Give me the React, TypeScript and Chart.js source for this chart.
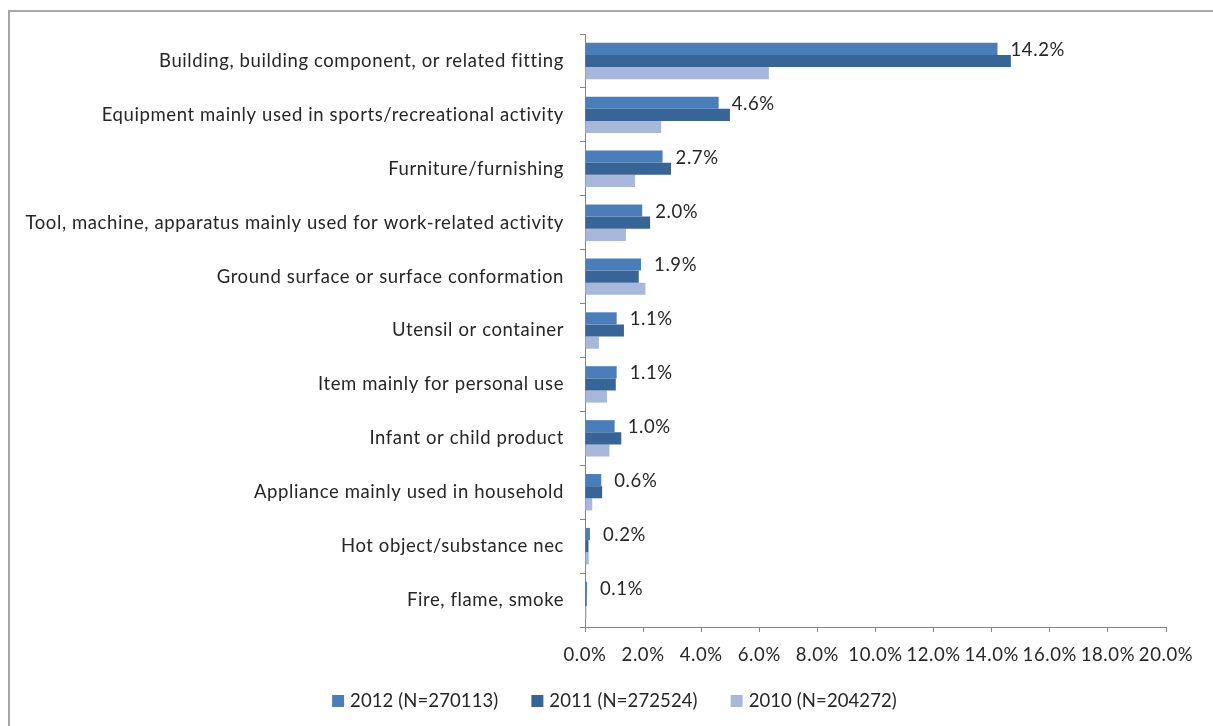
import React, { useEffect, useRef } from "react";
import { Chart, registerables } from "chart.js";
Chart.register(...registerables);

const categories = [
  "Building, building component, or related fitting",
  "Equipment mainly used in sports/recreational activity",
  "Furniture/furnishing",
  "Tool, machine, apparatus mainly used for work-related activity",
  "Ground surface or surface conformation",
  "Utensil or container",
  "Item mainly for personal use",
  "Infant or child product",
  "Appliance mainly used in household",
  "Hot object/substance nec",
  "Fire, flame, smoke",
];
const values2012 = [14.2, 4.6, 2.67, 1.97, 1.93, 1.09, 1.09, 1.02, 0.56, 0.17, 0.07];
const values2011 = [14.66, 4.99, 2.96, 2.24, 1.85, 1.34, 1.06, 1.25, 0.59, 0.12, 0.06];
const values2010 = [6.33, 2.62, 1.72, 1.41, 2.08, 0.48, 0.76, 0.84, 0.25, 0.13, 0.05];
const seriesNames = ["2012 (N=270113)", "2011 (N=272524)", "2010 (N=204272)"];
const seriesColors = ["#4A7EBB", "#386597", "#A7B8DA"];
const xMin = 0;
const xMax = 20;
const xStep = 2;

const FONT = "Lato";
const FONT_SIZE = 18.5;
const LETTER_SPACING = "0.6px";
const TEXT = "#262626";
const AXIS = "#868686";

export default function App() {
  const ref = useRef<HTMLCanvasElement>(null);
  useEffect(() => {
    const canvas = ref.current!;
    const spacingPlugin = {
      id: "spacing",
      beforeInit(chart: any) {
        chart.ctx.letterSpacing = LETTER_SPACING;
      },
      beforeLayout(chart: any) {
        chart.ctx.letterSpacing = LETTER_SPACING;
      },
      beforeDraw(chart: any) {
        chart.ctx.letterSpacing = LETTER_SPACING;
      },
    };
    const framePlugin = {
      id: "frame",
      beforeDraw(chart: any) {
        const ctx = chart.ctx;
        ctx.save();
        ctx.fillStyle = "#ffffff";
        ctx.fillRect(0, 0, chart.width, chart.height);
        ctx.fillStyle = "#a6a6a6";
        ctx.fillRect(8, 10, chart.width - 8, 2);
        ctx.fillRect(8, 10, 2, chart.height - 10);
        ctx.restore();
      },
    };
    const labelPlugin = {
      id: "barLabels",
      afterDatasetsDraw(chart: any) {
        const ctx = chart.ctx;
        const meta = chart.getDatasetMeta(0);
        const data = chart.data.datasets[0].data as number[];
        ctx.save();
        ctx.font = `${FONT_SIZE}px ${FONT}`;
        ctx.fillStyle = TEXT;
        ctx.textAlign = "left";
        ctx.textBaseline = "middle";
        meta.data.forEach((bar: any, i: number) => {
          const p = bar.getProps(["x", "y"], true);
          ctx.fillText(data[i].toFixed(1) + "%", p.x + 13, p.y + 1);
        });
        ctx.restore();
      },
    };
    const legendPlugin = {
      id: "customLegend",
      afterDraw(chart: any) {
        const ctx = chart.ctx;
        ctx.save();
        ctx.font = `${FONT_SIZE}px ${FONT}`;
        ctx.letterSpacing = "0.1px";
        const box = 12;
        const gapBoxText = 6;
        const gapItems = 33;
        const ds = chart.data.datasets;
        const widths = ds.map((d: any) => box + gapBoxText + ctx.measureText(d.label).width);
        const total = widths.reduce((a: number, b: number) => a + b, 0) + gapItems * (ds.length - 1);
        let x = 614.5 - total / 2;
        const cy = 701;
        ds.forEach((d: any, i: number) => {
          ctx.fillStyle = d.backgroundColor;
          ctx.fillRect(x, cy - box / 2, box, box);
          ctx.fillStyle = TEXT;
          ctx.textAlign = "left";
          ctx.textBaseline = "middle";
          ctx.fillText(d.label, x + box + gapBoxText, cy);
          x += widths[i] + gapItems;
        });
        ctx.restore();
      },
    };
    const chart = new Chart(canvas, {
      type: "bar",
      data: {
        labels: categories,
        datasets: [
          { label: seriesNames[0], data: values2012, backgroundColor: seriesColors[0] },
          { label: seriesNames[1], data: values2011, backgroundColor: seriesColors[1] },
          { label: seriesNames[2], data: values2010, backgroundColor: seriesColors[2] },
        ],
      },
      options: {
        indexAxis: "y",
        responsive: false,
        animation: false,
        devicePixelRatio: 1,
        layout: { padding: { left: 0, right: 47, top: 34, bottom: 0 } },
        datasets: { bar: { categoryPercentage: 0.675, barPercentage: 1, borderWidth: 0 } },
        plugins: { legend: { display: false }, tooltip: { enabled: false } },
        scales: {
          x: {
            min: xMin,
            max: xMax,
            ticks: {
              stepSize: xStep,
              color: TEXT,
              font: { family: FONT, size: FONT_SIZE },
              padding: 12,
              maxRotation: 0,
              minRotation: 0,
              autoSkip: false,
              callback: (v: any) => Number(v).toFixed(1) + "%",
            },
            grid: { drawOnChartArea: false, drawTicks: true, tickLength: 5, color: AXIS },
            border: { color: AXIS, width: 1 },
            afterFit: (s: any) => {
              s.height = 99;
            },
          },
          y: {
            ticks: { color: TEXT, font: { family: FONT, size: FONT_SIZE }, padding: 16, autoSkip: false },
            grid: { drawOnChartArea: false, drawTicks: true, tickLength: 5, color: AXIS, offset: true },
            border: { color: AXIS, width: 1 },
            afterFit: (s: any) => {
              s.width = 585;
            },
          },
        },
      },
      plugins: [spacingPlugin, framePlugin, labelPlugin, legendPlugin],
    } as any);
    return () => chart.destroy();
  }, []);
  return (
    <canvas
      ref={ref}
      width={1213}
      height={726}
      style={{ position: "fixed", left: 0, top: 0, width: 1213, height: 726 }}
    />
  );
}
